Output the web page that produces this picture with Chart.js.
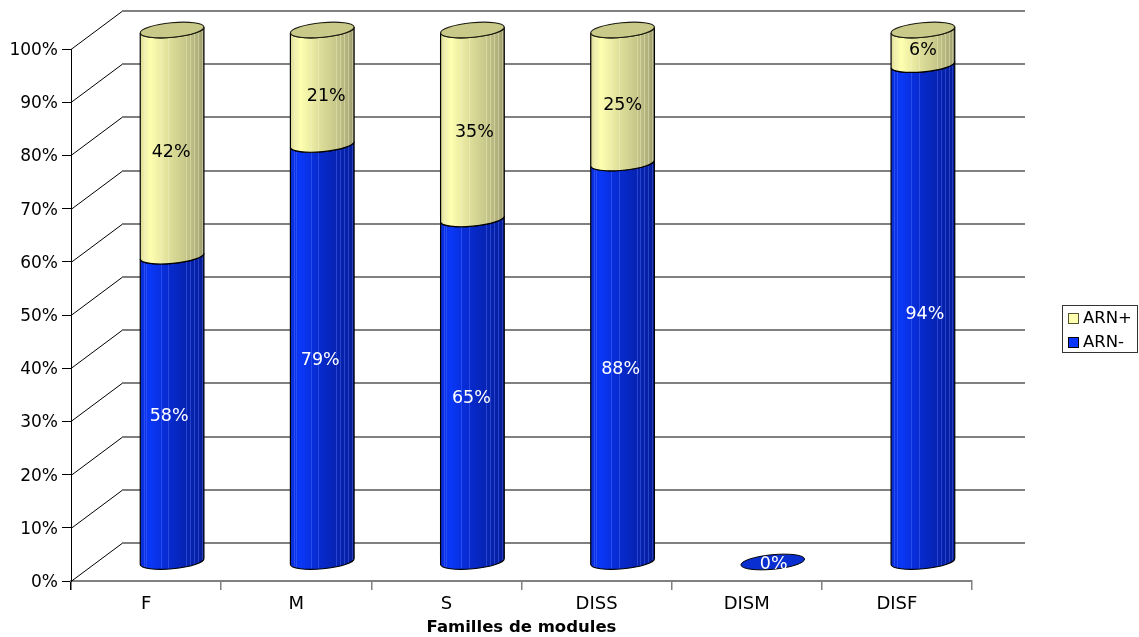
<!DOCTYPE html>
<html>
<head>
<meta charset="utf-8">
<style>html,body{margin:0;padding:0;background:#fff}canvas{display:block}</style>
<script src="https://cdn.jsdelivr.net/npm/chart.js@4"></script>
</head>
<body>
<canvas id="c" width="1139" height="637"></canvas>
<script>
const categories = ['F', 'M', 'S', 'DISS', 'DISM', 'DISF'];
const arnMinus = [57.5, 78.5, 64.5, 75, 0, 93.5];
const arnPlus = [42.5, 21.5, 35.5, 25, 0, 6.5];
const arnMinusLabels = ['58%', '79%', '65%', '88%', '0%', '94%'];
const arnPlusLabels = ['42%', '21%', '35%', '25%', '', '6%'];
const yTicks = [0, 10, 20, 30, 40, 50, 60, 70, 80, 90, 100];

const FONT = '"DejaVu Sans", Verdana, sans-serif';
const DEPTH_X = 51, DEPTH_Y = 38;
const TILT = -5.4 * Math.PI / 180, MINOR = 7.3;
const minusNudge = [[-3, 8], [-2, 8], [-1, 8], [-2, 7], [1, 2], [2, 1]];
const plusNudge = [[-1, 9], [4, 9], [2, 8], [0, 9], [0, 0], [0, 3]];

function bodyFill(ctx, left, right, stops) {
  const g = ctx.createLinearGradient(left, 0, right, 0);
  stops.forEach(s => g.addColorStop(s[0], s[1]));
  return g;
}
const blueStops = [[0, '#0a2ccc'], [0.06, '#0a32e6'], [0.16, '#0a38f8'], [0.4, '#082cd4'], [0.7, '#0624b4'], [0.92, '#0620a4'], [1, '#051a88']];
const yellowStops = [[0, '#d8d898'], [0.06, '#eeeea6'], [0.16, '#ffffb0'], [0.4, '#e4e49e'], [0.7, '#c8c88a'], [0.92, '#aeae7a'], [1, '#96966a']];
const blueLight = '#5a78ff', yellowLight = '#f2f2d0';
const stripes = [0.055, 0.09, 0.32, 0.44, 0.72, 0.78, 0.84, 0.9, 0.96];

function cylinder(ctx, cx, yTop, yBottom, a, stops, light, capColor) {
  const left = cx - a, right = cx + a;
  const body = new Path2D();
  body.ellipse(cx, yBottom, a, MINOR, TILT, 0, Math.PI, false);
  body.ellipse(cx, yTop, a, MINOR, TILT, Math.PI, 0, true);
  body.closePath();
  ctx.save();
  ctx.fillStyle = bodyFill(ctx, left, right, stops);
  ctx.fill(body);
  ctx.save();
  ctx.clip(body);
  ctx.strokeStyle = light;
  ctx.lineWidth = 1;
  ctx.globalAlpha = 0.4;
  stripes.forEach(p => {
    const x = Math.round(left + p * 2 * a) + 0.5;
    ctx.beginPath();
    ctx.moveTo(x, yTop - 12);
    ctx.lineTo(x, yBottom + 12);
    ctx.stroke();
  });
  ctx.restore();
  ctx.strokeStyle = '#000';
  ctx.lineWidth = 1.2;
  ctx.stroke(body);
  if (capColor) {
    ctx.beginPath();
    ctx.ellipse(cx, yTop, a, MINOR, TILT, 0, Math.PI * 2);
    ctx.fillStyle = capColor;
    ctx.fill();
    ctx.strokeStyle = '#1c1c10';
    ctx.stroke();
  }
  ctx.restore();
}

const wallPlugin = {
  id: 'wall',
  beforeDatasetsDraw(chart) {
    const ctx = chart.ctx, y = chart.scales.y, x = chart.scales.x;
    ctx.save();
    yTicks.forEach(v => {
      const py = Math.round(y.getPixelForValue(v));
      ctx.strokeStyle = '#000';
      ctx.lineWidth = 1;
      ctx.beginPath();
      ctx.moveTo(x.left, py + 0.5);
      ctx.lineTo(x.left + DEPTH_X, py - DEPTH_Y + 0.5);
      ctx.stroke();
      ctx.strokeStyle = '#808080';
      ctx.lineWidth = 2;
      ctx.beginPath();
      ctx.moveTo(x.left + DEPTH_X, py - DEPTH_Y);
      ctx.lineTo(x.right + DEPTH_X + 2, py - DEPTH_Y);
      ctx.stroke();
    });
    ctx.restore();
  }
};

const cylinderPlugin = {
  id: 'cylinders',
  afterDatasetsDraw(chart) {
    const ctx = chart.ctx;
    const lower = chart.getDatasetMeta(0).data, upper = chart.getDatasetMeta(1).data;
    lower.forEach((bar, i) => {
      const a = bar.width / 2, cx = bar.x + DEPTH_X / 2 + 0.5, dy = DEPTH_Y / 2;
      const top = upper[i];
      const bottomY = bar.base - dy, midY = bar.y - dy, topY = top.y - dy;
      if (arnPlus[i] === 0 && arnMinus[i] === 0) {
        ctx.save();
        ctx.beginPath();
        ctx.ellipse(cx, bottomY, a, MINOR, TILT, 0, Math.PI * 2);
        ctx.fillStyle = '#0a2fd0';
        ctx.fill();
        ctx.strokeStyle = '#000';
        ctx.stroke();
        ctx.restore();
      } else {
        cylinder(ctx, cx, midY, bottomY, a, blueStops, blueLight, null);
        cylinder(ctx, cx, topY, midY, a, yellowStops, yellowLight, '#c9c98a');
      }
      ctx.save();
      ctx.font = '17.5px ' + FONT;
      ctx.textAlign = 'center';
      ctx.textBaseline = 'middle';
      ctx.fillStyle = '#fff';
      ctx.fillText(arnMinusLabels[i], cx + minusNudge[i][0], (bottomY + midY) / 2 + minusNudge[i][1]);
      ctx.fillStyle = '#000';
      if (arnPlusLabels[i]) ctx.fillText(arnPlusLabels[i], cx + plusNudge[i][0], (midY + topY) / 2 + plusNudge[i][1]);
      ctx.restore();
    });
  }
};

const legendPlugin = {
  id: 'boxLegend',
  afterDraw(chart) {
    const ctx = chart.ctx;
    const rows = [chart.data.datasets[1], chart.data.datasets[0]];
    ctx.save();
    ctx.strokeStyle = '#333';
    ctx.lineWidth = 1;
    ctx.strokeRect(1062.5, 305.5, 75, 47);
    ctx.font = '16.5px ' + FONT;
    ctx.textBaseline = 'middle';
    rows.forEach((d, i) => {
      const yc = 318 + i * 24;
      ctx.fillStyle = d.swatch;
      ctx.fillRect(1068.5, yc - 4.5, 10, 10);
      ctx.strokeStyle = i === 0 ? '#555533' : '#000';
      ctx.strokeRect(1068.5, yc - 4.5, 10, 10);
      ctx.fillStyle = '#000';
      ctx.fillText(d.label, 1083, yc + 1);
    });
    ctx.restore();
  }
};

new Chart(document.getElementById('c'), {
  type: 'bar',
  data: {
    labels: categories,
    datasets: [
      { label: 'ARN-', data: arnMinus, backgroundColor: 'rgba(0,0,0,0)', swatch: '#0a36ff' },
      { label: 'ARN+', data: arnPlus, backgroundColor: 'rgba(0,0,0,0)', swatch: '#ffffb0' }
    ]
  },
  plugins: [wallPlugin, cylinderPlugin, legendPlugin],
  options: {
    responsive: false,
    animation: false,
    layout: { padding: { left: 0, top: 49, right: 167, bottom: 0 } },
    categoryPercentage: 0.426,
    barPercentage: 1,
    plugins: { legend: { display: false }, tooltip: { enabled: false }, title: { display: false } },
    scales: {
      x: {
        stacked: true,
        afterFit: s => { s.height = 56; },
        grid: { drawOnChartArea: false, drawTicks: true, tickLength: 9, color: c => c.index === 0 ? '#000' : '#808080', lineWidth: 1.5 },
        border: { color: '#808080', width: 2 },
        ticks: { color: '#000', font: { family: FONT, size: 18 }, padding: 4, maxRotation: 0 },
        title: { display: true, text: 'Familles de modules', color: '#000', font: { family: FONT, size: 16.5, weight: 'bold' }, padding: { top: 0, bottom: -1 } }
      },
      y: {
        stacked: true,
        min: 0,
        max: 100,
        afterFit: s => { s.width = 71; },
        afterBuildTicks: s => { s.ticks = yTicks.map(v => ({ value: v })); },
        grid: { drawOnChartArea: false, drawTicks: true, tickLength: 9, color: '#000', lineWidth: 1 },
        border: { color: '#000', width: 1 },
        ticks: { color: '#000', font: { family: FONT, size: 17 }, padding: 4, labelOffset: 1.5, callback: v => v + '%' }
      }
    }
  }
});
</script>
</body>
</html>
